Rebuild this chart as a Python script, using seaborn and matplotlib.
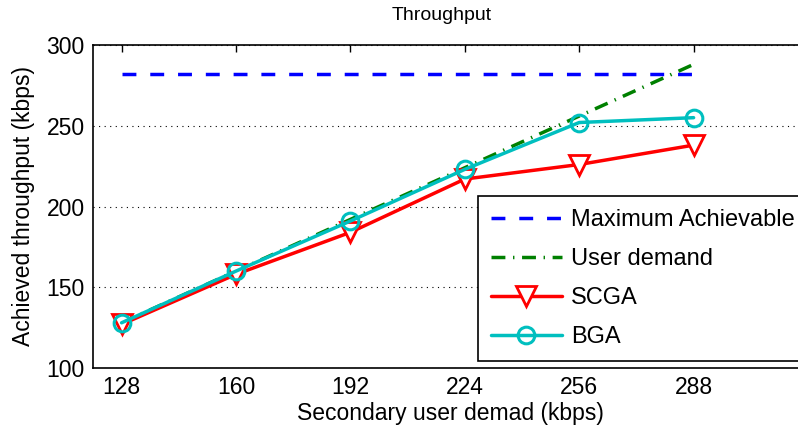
import matplotlib
matplotlib.use("Agg")
import matplotlib.pyplot as plt
import seaborn as sns
import pandas as pd
# ==================== DATA ====================
demand=[128,160,192,224,256,288]#secondary user demand (kbps)
max_achievable=[282,282,282,282,282,282]
user_demand=[128,160,192,224,256,288]
scga=[127,158,184,217,226,238]
bga=[128,160,191,223,252,255]
xticks=[128,160,192,224,256,288]
yticks=[100,150,200,250,300]
# ==================== STYLE ====================
sns.set_style("white")
plt.rcParams['font.family']=['Liberation Sans','DejaVu Sans']
plt.rcParams['xtick.direction']='in'
plt.rcParams['ytick.direction']='in'
for k in ['text.color','axes.labelcolor','xtick.color','ytick.color']:
    plt.rcParams[k]='black'
fig=plt.figure(figsize=(7.98,4.33),dpi=100)
ax=fig.add_axes([93/798,65/433,715/798,323/433])
df=pd.DataFrame({'x':demand,'max':max_achievable,'user':user_demand,'scga':scga,'bga':bga})
lw=2.5
sns.lineplot(data=df,x='x',y='max',ax=ax,color=(0,0,1),lw=lw,label='Maximum Achievable')
ax.lines[-1].set_dashes((4,4))
sns.lineplot(data=df,x='x',y='user',ax=ax,color=(0,0.5,0),lw=lw,label='User demand')
ax.lines[-1].set_dashes((4,2.2,0.4,2.2))
sns.lineplot(data=df,x='x',y='scga',ax=ax,color=(1,0,0),lw=lw,marker='v',markersize=14,
             markerfacecolor='white',markeredgecolor=(1,0,0),markeredgewidth=2,label='SCGA')
sns.lineplot(data=df,x='x',y='bga',ax=ax,color=(0,0.75,0.75),lw=lw,marker='o',markersize=12,
             markerfacecolor='none',markeredgecolor=(0,0.75,0.75),markeredgewidth=2.2,label='BGA')
# ==================== AXES ====================
ax.set_xlim(120,320)
ax.set_ylim(100,300)
ax.set_xticks(xticks)
ax.set_yticks(yticks)
ax.tick_params(axis='both',labelsize=16.5,length=5,width=1,top=True,right=True,pad=6)
ax.grid(False)
ax.yaxis.grid(True,linestyle=(0,(1,4)),color='black',lw=0.8)
for s in ax.spines.values():
    s.set_linewidth(1.2)
    s.set_color('black')
ax.set_xlabel('Secondary user demad (kbps)',fontsize=16.5,labelpad=2)
ax.set_ylabel('Achieved throughput (kbps)',fontsize=16.5,labelpad=8)
fig.text(442/798,1-15/433,'Throughput',ha='center',va='center',fontsize=14)
leg=ax.legend(loc='upper left',bbox_to_anchor=(478/798,1-196/433),bbox_transform=fig.transFigure,
              borderaxespad=0,fontsize=17,frameon=True,fancybox=False,edgecolor='black',
              handlelength=3.0,handletextpad=0.4,labelspacing=0.72,borderpad=0.55)
leg.get_frame().set_linewidth(1.2)
leg.get_frame().set_alpha(1)
fig.savefig('out.png',dpi=100)
